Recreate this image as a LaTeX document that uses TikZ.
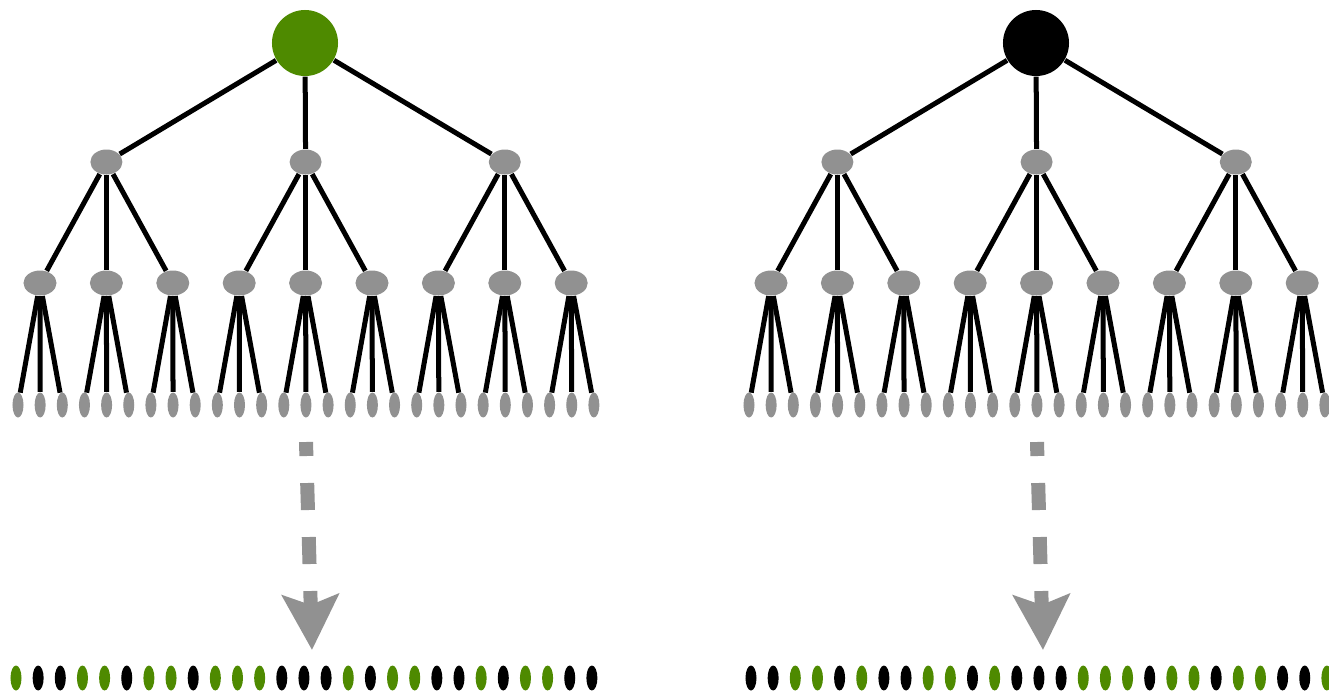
\documentclass[tikz,border=0pt]{standalone}
\usepackage{tikz}
\usetikzlibrary{arrows.meta,shapes.geometric}

\definecolor{gr}{RGB}{78,138,0}
\definecolor{gy}{RGB}{145,145,145}
\colorlet{bk}{black}

\tikzset{
  edge/.style={line width=0.05cm, black},
  root/.style={circle, inner sep=0pt, minimum size=0.66cm},
  midnode/.style={ellipse, fill=gy, inner sep=0pt, minimum width=0.32cm, minimum height=0.25cm},
  lownode/.style={ellipse, fill=gy, inner sep=0pt, minimum width=0.33cm, minimum height=0.25cm},
  leaf/.style={ellipse, inner sep=0pt, minimum width=0.11cm, minimum height=0.25cm},
  flow/.style={gy, line width=0.14cm, dash pattern=on 0.27cm off 0.27cm, dash phase=0.13cm,
    -{Stealth[length=0.55cm, width=0.56cm, inset=0.1cm]}},
}

\begin{document}
\begin{tikzpicture}[x=0.01cm, y=-0.01cm]
    \useasboundingbox (0,0) rectangle (1329,693);
    % the two trees
    \foreach \t/\dx/\rc in {a/0/gr, b/731/bk} {
        \node[root, fill=\rc] (\t-root) at ({\dx+305},43) {};
        \foreach \k in {0,1,2}
            \node[midnode] (\t-m\k) at ({\dx+106.4+199.2*\k},162) {};
        \foreach \j in {0,...,8}
            \node[lownode] (\t-n\j) at ({\dx+40+66.4*\j},283) {};
        \foreach \i in {0,...,26}
            \node[leaf, fill=gy] (\t-leaf\i) at ({\dx+18+22.15*\i},405) {};
        \foreach \k in {0,1,2}
            \draw[edge] (\t-root) -- (\t-m\k);
        \foreach \j in {0,...,8} {
            \pgfmathtruncatemacro\k{div(\j,3)}
            \draw[edge] (\t-m\k) -- (\t-n\j);
        }
        \foreach \i in {0,...,26} {
            \pgfmathtruncatemacro\j{div(\i,3)}
            \draw[edge] (\t-n\j) -- (\t-leaf\i);
        }
        \coordinate (\t-from) at ({\dx+306},442);
        \coordinate (\t-to) at ({\dx+312},650);
        \draw[flow] (\t-from) -- (\t-to);
    }
    % flattened rows
    \foreach \c [count=\i from 0] in {gr,bk,bk,gr,gr,bk,gr,gr,bk,gr,gr,gr,bk,bk,bk,gr,bk,gr,gr,bk,bk,gr,bk,gr,gr,bk,bk}
        \node[leaf, fill=\c] (a-dot\i) at ({16+22.15*\i},678) {};
    \foreach \c [count=\i from 0] in {bk,bk,gr,gr,bk,gr,bk,bk,gr,gr,bk,gr,bk,bk,bk,gr,gr,gr,bk,gr,gr,bk,gr,gr,bk,bk,gr}
        \node[leaf, fill=\c] (b-dot\i) at ({751+22.15*\i},678) {};
\end{tikzpicture}
\end{document}
